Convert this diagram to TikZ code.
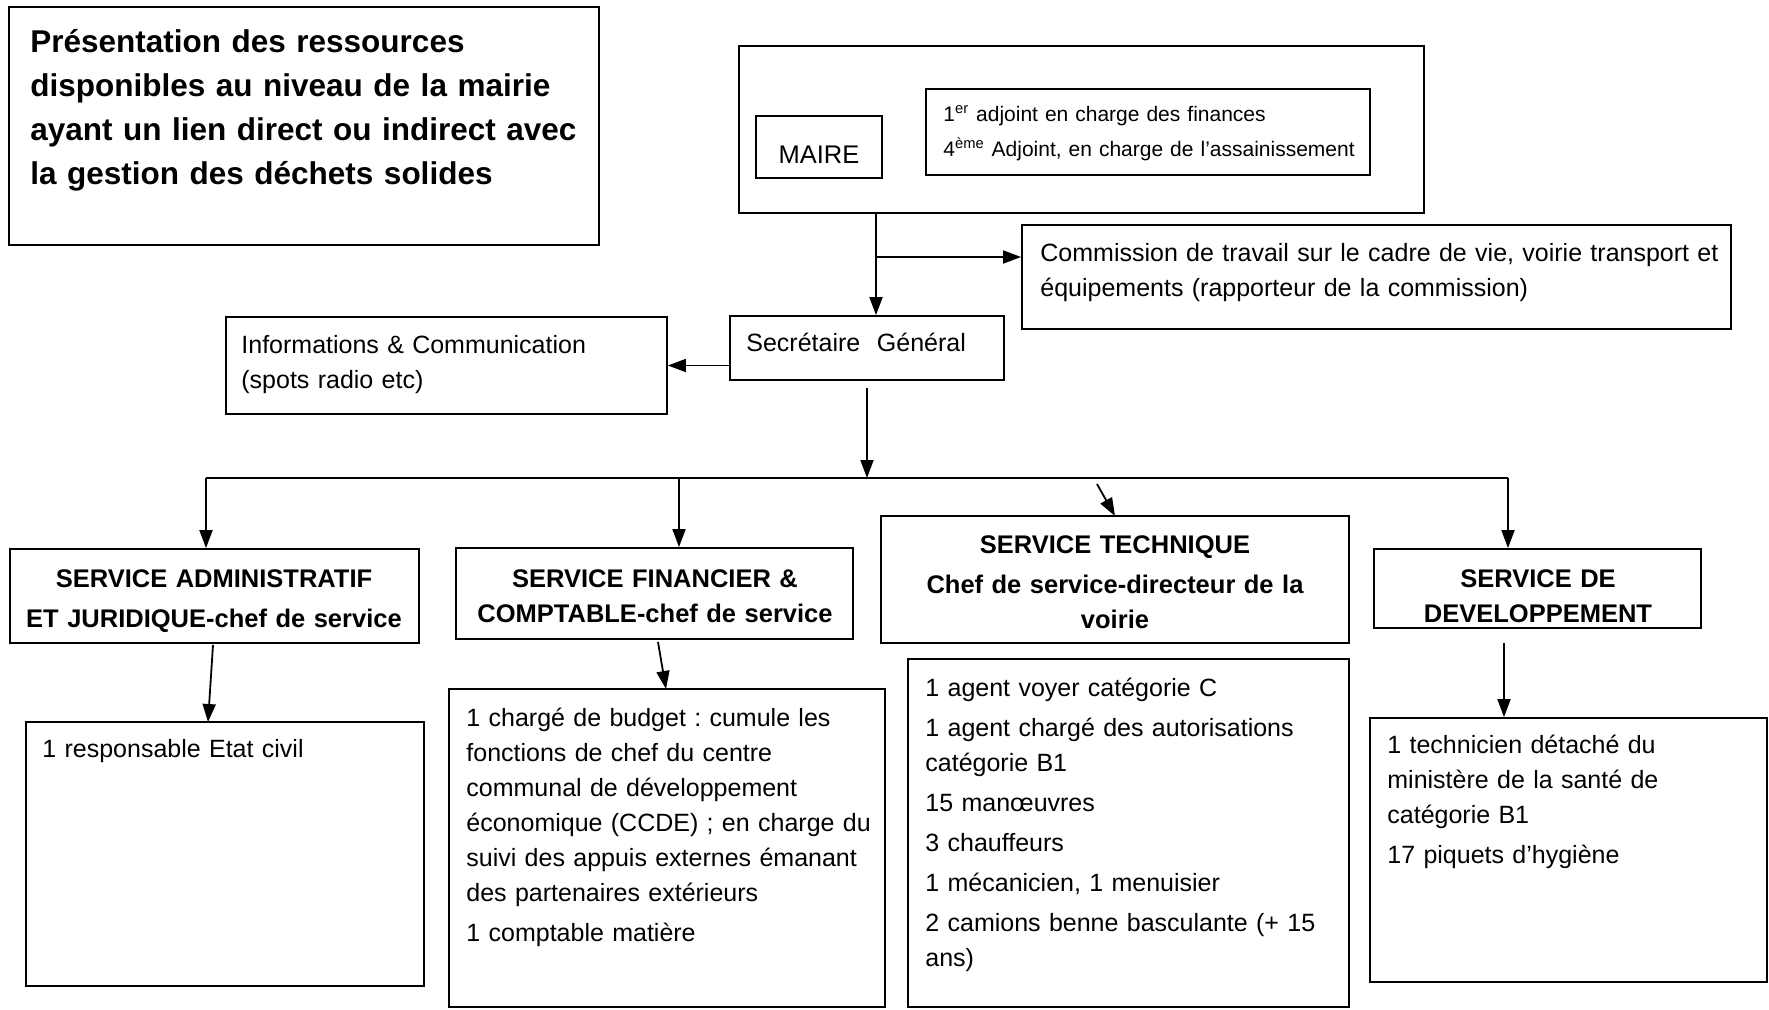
\documentclass[tikz,border=0pt]{standalone}
\usepackage{fontspec}
\setmainfont{Liberation Sans}
\usetikzlibrary{arrows.meta,fit}
\frenchspacing
\begin{document}
\begin{tikzpicture}[x=0.5pt,y=-0.5pt,
  box/.style={draw, line width=0.9pt, inner sep=0pt},
  txt/.style={inner sep=0pt, anchor=base west, text width=420pt, align=left, font=\fontsize{12.5}{17.5}\selectfont},
  hdr/.style={inner sep=0pt, anchor=base, align=center, font=\fontsize{12.75}{17.5}\selectfont\bfseries},
  arr/.style={line width=0.9pt, -{Triangle[length=9pt,width=6.5pt]}},
  conn/.style={line width=0.9pt}]
\useasboundingbox (0,0) rectangle (1769,1009);

% title
\node[box, fit={(9,7) (599,245)}] (title) {};
\node[txt, font=\fontsize{15.75}{22}\selectfont\bfseries] (titlet) at (30,52)
  {Présentation des ressources\\disponibles au niveau de la mairie\\ayant un lien direct ou indirect avec\\la gestion des déchets solides};

% maire
\node[box, fit={(739,46) (1424,213)}] (mo) {};
\node[box, fit={(756,116) (882,178)}] (mi) {};
\node[inner sep=0pt, anchor=base, font=\fontsize{12.75}{17.5}\selectfont] (mit) at (819,163) {MAIRE};
\node[box, fit={(926,89) (1370,175)}] (adj) {};
\node[txt, font=\fontsize{10.5}{17.5}\selectfont] (adjt) at (943,121)
  {1\textsuperscript{er} adjoint en charge des finances\\4\textsuperscript{ème} Adjoint, en charge de l’assainissement};

% commission
\node[box, fit={(1022,225) (1731,329)}] (comm) {};
\node[txt] (commt) at (1040,261)
  {Commission de travail sur le cadre de vie, voirie transport et\\équipements (rapporteur de la commission)};

% secretaire
\node[box, fit={(730,316) (1004,380)}] (secr) {};
\node[txt] (secrt) at (746,351) {Secrétaire\ \ Général};

% info
\node[box, fit={(226,317) (667,414)}] (info) {};
\node[txt] (infot) at (241,353) {Informations \& Communication\\(spots radio etc)};

% services
\node[box, fit={(10,549) (419,643)}] (adm) {};
\node[hdr, text width=400pt] (admt) at (214,587) {SERVICE ADMINISTRATIF\\[2.5pt]ET JURIDIQUE-chef de service};
\node[box, fit={(456,548) (853,639)}] (fin) {};
\node[hdr, text width=390pt] (fint) at (655,587) {SERVICE FINANCIER \&\\COMPTABLE-chef de service};
\node[box, fit={(881,516) (1349,643)}] (tech) {};
\node[hdr, text width=460pt] (techt) at (1115,553) {SERVICE TECHNIQUE\\[2.5pt]Chef de service-directeur de la\\voirie};
\node[box, fit={(1374,549) (1701,628)}] (dev) {};
\node[hdr, text width=320pt] (devt) at (1538,587) {SERVICE DE\\DEVELOPPEMENT};

% details
\node[box, fit={(26,722) (424,986)}] (admd) {};
\node[txt] (admdt) at (42,757) {1 responsable Etat civil};
\node[box, fit={(449,689) (885,1007)}] (find) {};
\node[txt] (findt) at (466,726) {1 chargé de budget : cumule les\\fonctions de chef du centre\\communal de développement\\économique (CCDE) ; en charge du\\suivi des appuis externes émanant\\des partenaires extérieurs\\[2.5pt]1 comptable matière};
\node[box, fit={(908,659) (1349,1007)}] (techd) {};
\node[txt] (techdt) at (925,696) {1 agent voyer catégorie C\\[2.5pt]1 agent chargé des autorisations\\catégorie B1\\[2.5pt]15 manœuvres\\[2.5pt]3 chauffeurs\\[2.5pt]1 mécanicien, 1 menuisier\\[2.5pt]2 camions benne basculante (+ 15\\ans)};
\node[box, fit={(1370,718) (1767,982)}] (devd) {};
\node[txt] (devdt) at (1387,753) {1 technicien détaché du\\ministère de la santé de\\catégorie B1\\[2.5pt]17 piquets d’hygiène};

% connectors
\coordinate (j1) at (876,257);
\draw[arr] (j1 |- mo.south) -- (j1 |- secr.north);
\draw[arr] (j1) -- (j1 -| comm.west);
\draw[arr] (secr.west |- info.east) -- (info.east);
\coordinate (busL) at (206,478);
\coordinate (busR) at (1508,478);
\draw[conn] (busL) -- (busR);
\draw[arr] ([yshift=-3.5pt]secr.south) -- (secr.south |- busL);
\draw[arr] (busL) -- (busL |- adm.north);
\coordinate (bf) at (679,478);
\draw[arr] (bf) -- (bf |- fin.north);
\coordinate (bt) at (1097,484);
\draw[arr] (bt) -- (1115,516);
\draw[arr] (busR) -- (busR |- dev.north);
\coordinate (a1) at (213,645);
\draw[arr] (a1) -- (208,722);
\coordinate (f1) at (658,642);
\draw[arr] (f1) -- (666,689);
\coordinate (d1) at (1504,643);
\draw[arr] (d1) -- (d1 |- devd.north);
\end{tikzpicture}
\end{document}
